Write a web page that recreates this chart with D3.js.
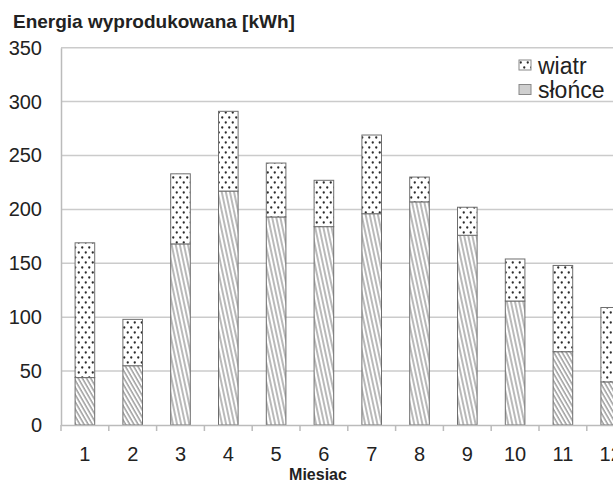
<!doctype html>
<html lang="pl">
<head>
    <meta charset="utf-8"/>
    <title>Energia wyprodukowana</title>
    <style>
        html, body { margin: 0; padding: 0; background: #fff; }
        svg { display: block; font-family: "Liberation Sans", Arial, sans-serif; }
    </style>
</head>
<body>
    <svg id="chart" width="613" height="482"></svg>
    <script src="https://d3js.org/d3.v7.min.js"></script>
    <script>
        // data
        const months = ["1", "2", "3", "4", "5", "6", "7", "8", "9", "10", "11", "12"];
        const slonce = [44, 55, 168, 217, 193, 184, 196, 207, 176, 115, 68, 40];
        const wiatr = [125, 43, 65, 74, 50, 43, 73, 23, 26, 39, 80, 69];
        const yTicks = [0, 50, 100, 150, 200, 250, 300, 350];
        const seriesNames = ["wiatr", "słońce"];

        const svg = d3.select("#chart");
        const plotLeft = 61, plotTop = 47.7, plotBottom = 425, step = 47.8;

        const x = d3.scaleBand()
            .domain(months)
            .range([plotLeft, plotLeft + step * months.length])
            .paddingInner(0.59)
            .paddingOuter(0.295);

        const y = d3.scaleLinear()
            .domain([0, 350])
            .range([plotBottom, plotTop]);

        // patterns
        const defs = svg.append("defs");

        // wide diagonal hatch (winter months)
        const hA = defs.append("pattern")
            .attr("id", "hatchA")
            .attr("patternUnits", "userSpaceOnUse")
            .attr("width", 3.6).attr("height", 10)
            .attr("patternTransform", "rotate(-30)");
        hA.append("rect").attr("width", 3.6).attr("height", 10).attr("fill", "#fff");
        hA.append("line").attr("x1", 1).attr("x2", 1).attr("y1", 0).attr("y2", 10)
            .attr("stroke", "#7a7a7a").attr("stroke-width", 1.1);

        // steep hatch (summer months)
        const hB = defs.append("pattern")
            .attr("id", "hatchB")
            .attr("patternUnits", "userSpaceOnUse")
            .attr("width", 4).attr("height", 10)
            .attr("patternTransform", "rotate(-12)");
        hB.append("rect").attr("width", 4).attr("height", 10).attr("fill", "#fff");
        hB.append("line").attr("x1", 1).attr("x2", 1).attr("y1", 0).attr("y2", 10)
            .attr("stroke", "#808080").attr("stroke-width", 1.1);

        // dots
        const dots = defs.append("pattern")
            .attr("id", "dots")
            .attr("patternUnits", "userSpaceOnUse")
            .attr("width", 7).attr("height", 10);
        dots.append("rect").attr("width", 7).attr("height", 10).attr("fill", "#fff");
        dots.append("circle").attr("cx", 1.75).attr("cy", 2.5).attr("r", 1.15).attr("fill", "#2a2a2a");
        dots.append("circle").attr("cx", 5.25).attr("cy", 7.5).attr("r", 1.15).attr("fill", "#2a2a2a");

        // gridlines
        svg.append("g")
            .selectAll("line")
            .data(yTicks.filter(d => d > 0))
            .join("line")
            .attr("x1", plotLeft).attr("x2", 613)
            .attr("y1", d => y(d)).attr("y2", d => y(d))
            .attr("stroke", "#cbcbcb")
            .attr("stroke-width", 1.5);

        // y axis
        const yAxis = svg.append("g")
            .attr("transform", `translate(${plotLeft},0)`)
            .call(d3.axisLeft(y).tickValues(yTicks).tickSize(0).tickPadding(19));
        yAxis.select(".domain").attr("stroke", "#bbb").attr("stroke-width", 1.5);
        yAxis.selectAll("text")
            .attr("font-size", 20)
            .attr("fill", "#222")
            .attr("font-family", "Liberation Sans, Arial, sans-serif");

        // stacked bars
        const table = months.map((m, i) => ({ month: m, slonce: slonce[i], wiatr: wiatr[i] }));
        const stack = d3.stack().keys(["slonce", "wiatr"])(table);

        const winter = new Set(["1", "2", "11", "12"]);

        svg.append("g")
            .selectAll("g")
            .data(stack)
            .join("g")
            .selectAll("rect")
            .data(s => s.map(d => ({ key: s.key, d })))
            .join("rect")
            .attr("x", o => x(o.d.data.month))
            .attr("width", x.bandwidth())
            .attr("y", o => y(o.d[1]))
            .attr("height", o => y(o.d[0]) - y(o.d[1]))
            .attr("fill", o => o.key === "wiatr" ? "url(#dots)"
                : (winter.has(o.d.data.month) ? "url(#hatchA)" : "url(#hatchB)"))
            .attr("stroke", "#6e6e6e")
            .attr("stroke-width", 1);

        // x axis
        const xAxis = svg.append("g")
            .attr("transform", `translate(0,${plotBottom})`)
            .call(d3.axisBottom(x).tickSize(0).tickPadding(22));
        xAxis.select(".domain").attr("stroke", "#bbb").attr("stroke-width", 1.5);
        xAxis.selectAll("text")
            .attr("font-size", 20)
            .attr("fill", "#222")
            .attr("font-family", "Liberation Sans, Arial, sans-serif");

        // tick marks between months
        svg.append("g")
            .selectAll("line")
            .data(d3.range(months.length + 1))
            .join("line")
            .attr("x1", i => plotLeft + i * x.step())
            .attr("x2", i => plotLeft + i * x.step())
            .attr("y1", plotBottom).attr("y2", plotBottom + 6)
            .attr("stroke", "#bbb")
            .attr("stroke-width", 1.5);

        // title and axis label
        svg.append("text")
            .attr("x", 13).attr("y", 28)
            .attr("font-size", 19)
            .attr("font-weight", "bold")
            .attr("fill", "#222")
            .text("Energia wyprodukowana [kWh]");

        svg.append("text")
            .attr("x", 318).attr("y", 480)
            .attr("text-anchor", "middle")
            .attr("font-size", 16)
            .attr("font-weight", "bold")
            .attr("fill", "#222")
            .text("Miesiac");

        // legend
        const legend = svg.append("g").attr("transform", "translate(519,60)");
        const items = legend.selectAll("g")
            .data(seriesNames)
            .join("g")
            .attr("transform", (d, i) => `translate(0,${i * 24.5})`);
        items.append("rect")
            .attr("width", 12).attr("height", 10)
            .attr("fill", (d, i) => i === 0 ? "url(#dots)" : "#cfcfcf")
            .attr("stroke", "#888");
        items.append("text")
            .attr("x", 19).attr("y", 13.5)
            .attr("font-size", 23)
            .attr("fill", "#222")
            .text(d => d);
    </script>
</body>
</html>
